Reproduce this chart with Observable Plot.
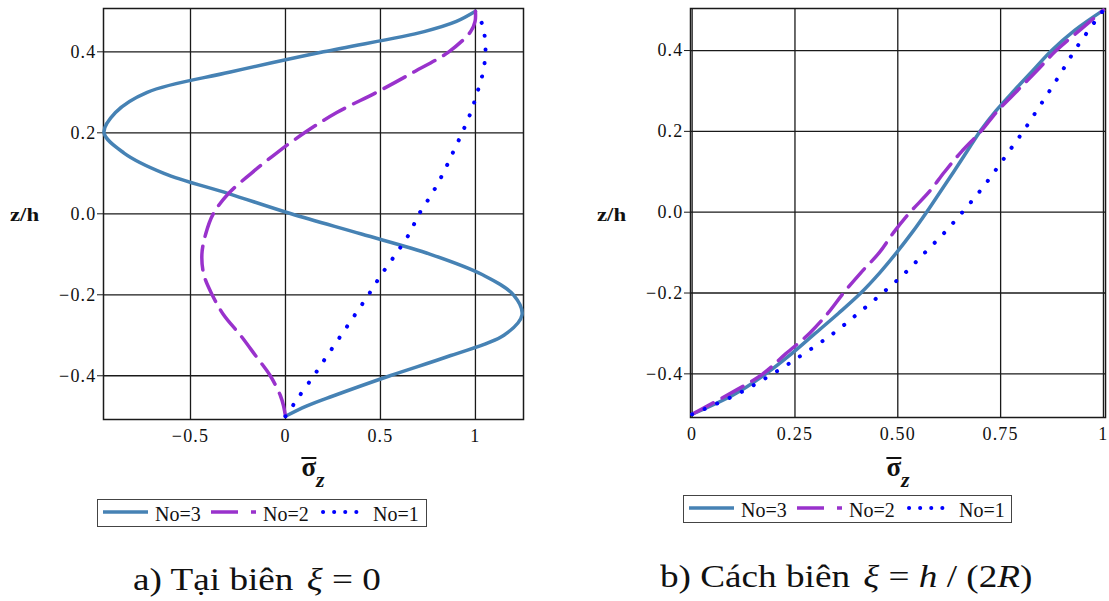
<!DOCTYPE html>
<html>
<head>
<meta charset="utf-8">
<script src="https://cdn.jsdelivr.net/npm/d3@7"></script>
<script src="https://cdn.jsdelivr.net/npm/@observablehq/plot@0.6"></script>
<style>
  body { margin: 0; background: #fff; }
  #root { position: relative; width: 1109px; height: 601px; background: #fff; color: #111; }
  #root, #root div, #root span { font-family: 'Liberation Serif'; }
  .abs { position: absolute; }
  .axlab { font-weight: bold; font-size: 27px; white-space: nowrap; transform: translateX(-50%); }
  .ov { display: inline-block; border-top: 2px solid #111; line-height: 16px; height: 16px; }
  .sub { font-style: italic; font-size: 22px; vertical-align: -11px; }
  .zh { font-weight: bold; font-size: 19px; line-height: 22px; transform: scaleX(1.2); transform-origin: left center; }
  .legend { border: 1px solid #444; height: 28px; box-sizing: border-box; }
  .legend .lt { position: absolute; top: 2px; font-size: 20px; line-height: 24px; }
  .legend svg { position: absolute; top: 9px; }
  .cap { font-size: 31px; line-height: 34px; white-space: nowrap; transform: scaleX(1.2); transform-origin: left center; }
  .gap { display: inline-block; width: 11px; }
</style>
</head>
<body>
<div id="root"></div>
<script>
// ---------- data ----------
const seriesNames = ["No=3", "No=2", "No=1"];
const seriesColors = ["#4682B4", "#9932CC", "#0000FF"];

// panel a) at the boundary xi = 0
const zLeft = [-0.5, -0.475, -0.45, -0.4, -0.35, -0.3, -0.25, -0.2, -0.15, -0.1, -0.05, 0,
               0.05, 0.1, 0.15, 0.2, 0.25, 0.3, 0.35, 0.4, 0.45, 0.475, 0.5];
const leftNo3 = [0, 0.11, 0.25, 0.55, 0.87, 1.15, 1.245, 1.2, 1.035, 0.763, 0.40, 0.03,
                 -0.30, -0.64, -0.85, -0.955, -0.895, -0.728, -0.29, 0.2, 0.73, 0.90, 1.0];
const leftNo2 = [0, -0.01, -0.026, -0.08, -0.158, -0.237, -0.325, -0.386, -0.43, -0.44, -0.42, -0.38,
                 -0.30, -0.18, -0.047, 0.1, 0.27, 0.48, 0.675, 0.86, 0.975, 0.998, 1.0];
const leftNo1 = [0, 0.037, 0.073, 0.149, 0.22, 0.293, 0.365, 0.437, 0.505, 0.58, 0.651, 0.704,
                 0.772, 0.83, 0.88, 0.93, 0.975, 1.01, 1.04, 1.053, 1.045, 1.03, 1.0];

// panel b) at xi = h/(2R)
const zRight = [-0.5, -0.45, -0.4, -0.35, -0.3, -0.25, -0.2, -0.15, -0.1, -0.05, 0,
                0.05, 0.1, 0.15, 0.2, 0.25, 0.3, 0.35, 0.4, 0.45, 0.5];
const rightNo3 = [0, 0.104, 0.179, 0.242, 0.299, 0.356, 0.41, 0.456, 0.497, 0.535, 0.57,
                  0.603, 0.636, 0.668, 0.70, 0.738, 0.782, 0.828, 0.874, 0.93, 1.0];
const rightNo2 = [0, 0.09, 0.172, 0.228, 0.285, 0.33, 0.368, 0.41, 0.455, 0.49, 0.53,
                  0.576, 0.614, 0.655, 0.702, 0.742, 0.79, 0.838, 0.885, 0.942, 1.0];
const rightNo1 = [0, 0.11, 0.196, 0.272, 0.343, 0.404, 0.463, 0.518, 0.566, 0.614, 0.657,
                  0.698, 0.735, 0.77, 0.805, 0.837, 0.869, 0.9, 0.93, 0.964, 1.0];

// ticks
const yTicks = [-0.4, -0.2, 0, 0.2, 0.4];
const yTickLabels = ["\u22120.4", "\u22120.2", "0.0", "0.2", "0.4"];
const leftXTicks = [-0.5, 0, 0.5, 1];
const leftXTickLabels = ["\u22120.5", "0", "0.5", "1"];
const rightXTicks = [0, 0.25, 0.5, 0.75, 1];
const rightXTickLabels = ["0", "0.25", "0.50", "0.75", "1"];

// texts
const yLabel = "z/h";
const captionA = 'a) Tại biên<span class="gap"></span><i>ξ</i> = 0';
const captionB = 'b) Cách biên<span class="gap"></span><i>ξ</i> = <i>h</i> / (2<i>R</i>)';

// ---------- build ----------
const FONT = "Liberation Serif";
function rowsOf(z, arrays) {
  const rows = [];
  arrays.forEach((arr, k) => arr.forEach((s, i) => rows.push({series: seriesNames[k], z: z[i], s})));
  return rows;
}
const styleFor = {
  "No=3": {strokeWidth: 3.5},
  "No=2": {strokeWidth: 3.5, strokeDasharray: "24,10"},
  "No=1": {strokeWidth: 4, strokeDasharray: "0.1,13.5", strokeLinecap: "round"}
};

function panel(rows, o) {
  const gridStyle = {stroke: "#1a1a1a", strokeOpacity: 1, strokeWidth: 1.3};
  return Plot.plot({
    width: o.width, height: o.height,
    marginLeft: o.ml, marginRight: o.mr, marginTop: o.mt, marginBottom: o.mb,
    style: {fontFamily: FONT, fontSize: "18px", letterSpacing: "1.2px", color: "#111", background: "transparent"},
    x: {domain: o.xDomain},
    y: {domain: o.yDomain},
    marks: [
      Plot.gridX(o.xTicks, gridStyle),
      Plot.gridY(yTicks, gridStyle),
      Plot.frame({stroke: "#1a1a1a", strokeWidth: 1.5}),
      Plot.axisY(yTicks, {tickSize: 6, tickPadding: 1, fontSize: 18, label: null,
        tickFormat: d => yTickLabels[yTicks.indexOf(d)], stroke: "#1a1a1a"}),
      Plot.axisX(o.xTicks, {tickSize: 0, tickPadding: 10, fontSize: 18, label: null,
        tickFormat: d => o.xLabels[o.xTicks.indexOf(d)]}),
      ...seriesNames.map((name, k) =>
        Plot.line(rows.filter(r => r.series === name), {
          x: "s", y: "z", stroke: seriesColors[k], curve: "catmull-rom", ...styleFor[name]
        }))
    ]
  });
}

const root = document.getElementById("root");

function place(el, left, top) {
  el.style.position = "absolute";
  el.style.left = left + "px";
  el.style.top = top + "px";
  root.appendChild(el);
}

const left = panel(rowsOf(zLeft, [leftNo3, leftNo2, leftNo1]), {
  width: 560, height: 455, ml: 103, mr: 37, mt: 8, mb: 36,
  xDomain: [-0.958, 1.253], yDomain: [-0.508, 0.507],
  xTicks: leftXTicks, xLabels: leftXTickLabels
});
place(left, 0, 0);

const right = panel(rowsOf(zRight, [rightNo3, rightNo2, rightNo1]), {
  width: 519, height: 455, ml: 100, mr: 4, mt: 8, mb: 38,
  xDomain: [-0.004, 1.005], yDomain: [-0.508, 0.504],
  xTicks: rightXTicks, xLabels: rightXTickLabels
});
place(right, 590, 0);

function html(cls, inner, l, t, extra) {
  const d = document.createElement("div");
  d.className = "abs " + cls;
  d.innerHTML = inner;
  d.style.left = l + "px"; d.style.top = t + "px";
  d.style.fontFamily = FONT;
  if (extra) Object.assign(d.style, extra);
  root.appendChild(d);
  return d;
}

// axis labels
const sigmaLab = '<span class="ov">σ</span><span class="sub">z</span>';
html("axlab", sigmaLab, 313, 452);
html("axlab", sigmaLab, 898, 452);
html("zh", yLabel, 10, 204);
html("zh", yLabel, 597, 204);

// legends
function legend(l, t, w) {
  const box = html("legend", "", l, t, {width: w + "px"});
  const sw = [
    '<line x1="0" y1="3" x2="45" y2="3" stroke="' + seriesColors[0] + '" stroke-width="3.5"/>',
    '<line x1="0" y1="3" x2="45" y2="3" stroke="' + seriesColors[1] + '" stroke-width="3.5" stroke-dasharray="27,13,5"/>',
    '<line x1="2" y1="3" x2="45" y2="3" stroke="' + seriesColors[2] + '" stroke-width="4" stroke-dasharray="0.1,11" stroke-linecap="round"/>'
  ];
  const swX = [5, 113, 223], txX = [57, 165, 275];
  seriesNames.forEach((n, k) => {
    const s = document.createElementNS("http://www.w3.org/2000/svg", "svg");
    s.setAttribute("width", 46); s.setAttribute("height", 6);
    s.style.left = swX[k] + "px";
    s.innerHTML = sw[k];
    box.appendChild(s);
    const t = document.createElement("div");
    t.className = "lt"; t.textContent = n; t.style.left = txX[k] + "px";
    t.style.fontFamily = FONT;
    box.appendChild(t);
  });
}
legend(97, 499, 330);
legend(683, 495, 329);

// captions
html("cap", captionA, 133, 563);
html("cap", captionB, 660, 560);
</script>
</body>
</html>
